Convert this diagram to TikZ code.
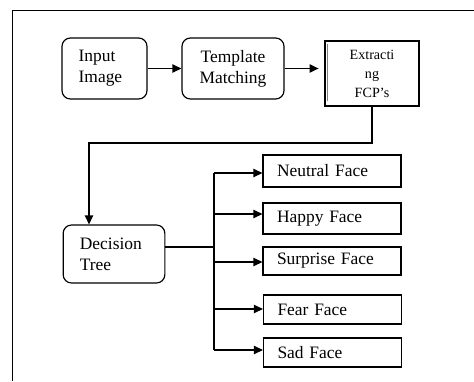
\documentclass[tikz,border=0pt]{standalone}
\usepackage{fontspec}
\setmainfont{Liberation Serif}
\usetikzlibrary{calc}
\usetikzlibrary{arrows.meta}

\begin{document}
\begin{tikzpicture}[x=0.6bp,y=-0.6bp,
  roundbox/.style={draw,line width=0.7bp,rounded corners=5bp,font=\fontsize{10.5}{12.6}\selectfont,inner ysep=0pt},
  facebox/.style={draw,line width=0.7bp,align=left,text width=66bp,inner xsep=8.4bp,inner ysep=0pt,font=\fontsize{10.5}{12.6}\selectfont},
  link/.style={line width=0.7bp,-{Triangle[length=5.4bp,width=5bp]}}]
\useasboundingbox (0,0) rectangle (474,381);
\draw[line width=1bp] (474,10.5) -- (12.5,10.5) -- (12.5,381);
\node[roundbox,align=left,text width=31bp,inner xsep=10bp,minimum height=36.6bp] (input) at (104.5,68.5) {Input\\Image};
\node[roundbox,align=center,minimum width=61.2bp,minimum height=36.6bp] (tm) at (233,68.5) {Template\\Matching};
\node[draw,line width=1.2bp,align=center,minimum width=56.4bp,minimum height=39bp,inner ysep=0pt,font=\fontsize{8.5}{11.4}\selectfont] (fcp) at (372,73.5) {Extracti\\ng\\FCP's};
\draw[gray,line width=1bp] ($(fcp.north west)+(3.5,4)$) -- ($(fcp.south west)+(3.5,-6)$);
\node[roundbox,align=left,text width=41bp,inner xsep=10bp,minimum height=34.8bp] (dt) at (114,254) {Decision\\Tree};
\draw[link] (input.east) -- (tm.west);
\draw[link] (tm.east) -- ++(34,0);
\coordinate (turn) at (89,143);
\draw[link] (fcp.south) |- (turn) -- (turn |- dt.north);
\node[facebox,minimum height=19.2bp] (neutral) at (332,171) {Neutral Face};
\node[facebox,minimum height=18.6bp] (happy) at (332,218.5) {\raisebox{-3bp}{Happy Face}};
\node[facebox,minimum height=16.8bp] (surprise) at (332,261) {Surprise Face};
\node[facebox,minimum height=17.4bp] (fear) at (332.5,309.5) {Fear Face};
\node[facebox,minimum height=17.4bp] (sad) at (332.5,352.5) {Sad Face};
\coordinate (bus) at (214,247);
\draw[line width=0.7bp] (dt.east |- bus) -- (bus);
\draw[line width=0.7bp] (214,173) -- (214,350);
\draw[link] (214,173) -- (neutral.west |- 0,173);
\draw[link] (214,214) -- (happy.west |- 0,214);
\draw[link] (214,262) -- (surprise.west |- 0,262);
\draw[link] (214,309) -- (fear.west |- 0,309);
\draw[link] (214,350) -- (sad.west |- 0,350);
\end{tikzpicture}
\end{document}
